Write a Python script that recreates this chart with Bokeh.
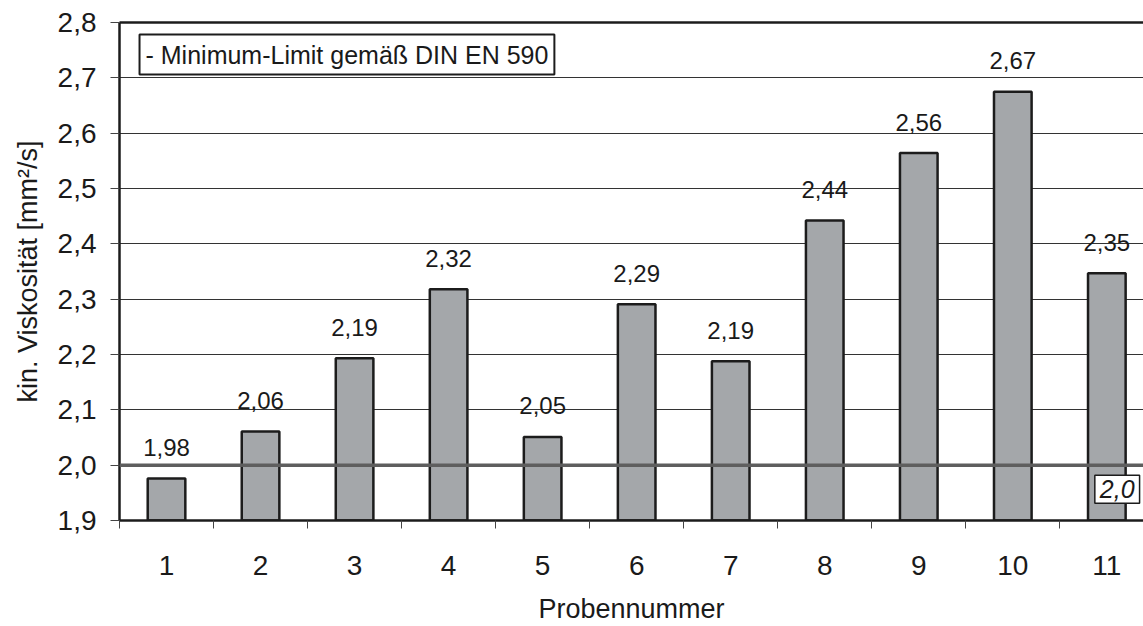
from bokeh.plotting import figure
from bokeh.models import (FixedTicker, Span, Label, LinearAxis, CustomJSTickFormatter,
                          ColumnDataSource, Range1d)
from bokeh.core.properties import value
from bokeh.embed import file_html
from bokeh.resources import INLINE

# ---- data ----
samples = [1, 2, 3, 4, 5, 6, 7, 8, 9, 10, 11]
viscosity = [1.976, 2.061, 2.193, 2.318, 2.051, 2.291, 2.188, 2.442, 2.564, 2.675, 2.347]
value_labels = ["1,98", "2,06", "2,19", "2,32", "2,05", "2,29", "2,19", "2,44", "2,56", "2,67", "2,35"]
y_ticks = [1.9, 2.0, 2.1, 2.2, 2.3, 2.4, 2.5, 2.6, 2.7, 2.8]
limit_value = 2.0
limit_label = "2,0"
legend_text = "- Minimum-Limit gemäß DIN EN 590"
x_title = "Probennummer"
y_title = "kin. Viskosität [mm²/s]"

FONT = "Liberation Sans"

src = ColumnDataSource(dict(x=samples, top=viscosity, lab=value_labels))

p = figure(width=1143, height=626, output_backend="svg", toolbar_location=None,
           x_range=Range1d(0.5, 11.39), y_range=Range1d(1.9, 2.8),
           min_border_left=119, min_border_bottom=106, min_border_top=22, min_border_right=0)
p.outline_line_color = None
p.background_fill_color = "white"

# grid
p.xgrid.visible = False
p.ygrid.ticker = FixedTicker(ticks=y_ticks)
p.ygrid.grid_line_color = "#333333"
p.ygrid.grid_line_width = 1

# bars
p.vbar(x="x", top="top", bottom=1.9, width=0.4, source=src,
       fill_color="#a4a7aa", line_color="#1c1c1c", line_width=2.5)

# limit line (on top of bars)
p.add_layout(Span(location=limit_value, dimension="width", line_color="#5e5e5e", line_width=3.5))

# value labels
p.text(x="x", y="top", text="lab", source=src, text_align="center", text_baseline="middle",
       y_offset=-31, text_font=value(FONT), text_font_size="24px", text_color="#1a1a1a")

# y axis
ya = p.yaxis[0]
ya.ticker = FixedTicker(ticks=y_ticks)
ya.formatter = CustomJSTickFormatter(code="return tick.toFixed(1).replace('.', ',');")
ya.axis_line_width = 2.5
ya.axis_line_color = "#1c1c1c"
ya.major_tick_out = 9
ya.major_tick_in = 0
ya.major_tick_line_color = "#444444"
ya.minor_tick_out = 0
ya.minor_tick_in = 0
ya.major_label_text_font = FONT
ya.major_label_text_font_size = "28px"
ya.major_label_text_color = "#1a1a1a"
ya.major_label_standoff = 14
ya.axis_label = y_title
ya.axis_label_text_font = FONT
ya.axis_label_text_font_style = "normal"
ya.axis_label_text_font_size = "27px"
ya.axis_label_text_color = "#1a1a1a"
ya.axis_label_standoff = 12

# x axis
xa = p.xaxis[0]
xa.ticker = FixedTicker(ticks=samples, minor_ticks=[s - 0.5 for s in samples] + [samples[-1] + 0.5])
xa.axis_line_width = 2.5
xa.axis_line_color = "#1c1c1c"
xa.major_tick_out = 0
xa.major_tick_in = 0
xa.minor_tick_out = 8
xa.minor_tick_in = 0
xa.minor_tick_line_color = "#444444"
xa.major_label_text_font = FONT
xa.major_label_text_font_size = "28px"
xa.major_label_text_color = "#1a1a1a"
xa.major_label_standoff = 27
xa.axis_label = x_title
xa.axis_label_text_font = FONT
xa.axis_label_text_font_style = "normal"
xa.axis_label_text_font_size = "27px"
xa.axis_label_text_color = "#1a1a1a"
xa.axis_label_standoff = 16

# top border via an empty axis
top_ax = LinearAxis(ticker=FixedTicker(ticks=[]), axis_line_width=2.5, axis_line_color="#1c1c1c",
                    major_tick_out=0, major_tick_in=0, minor_tick_out=0, minor_tick_in=0,
                    major_label_text_font_size="0px")
p.add_layout(top_ax, "above")

# legend-like box
p.add_layout(Label(x=0.713, y=2.7783, text=legend_text, text_baseline="top", text_align="left",
                   text_font=FONT, text_font_size="25px", text_color="#1a1a1a",
                   background_fill_color="white", border_line_color="#1c1c1c", border_line_width=2,
                   padding=6))

# limit value label
p.add_layout(Label(x=11, y=limit_value, x_offset=-12, y_offset=-10, text=limit_label,
                   text_baseline="top", text_align="left",
                   text_font=FONT, text_font_size="25px", text_font_style="italic", text_color="#1a1a1a",
                   background_fill_color="white", border_line_color="#1c1c1c", border_line_width=1.5,
                   padding=5))

open("out.html", "w").write(file_html(p, INLINE))
